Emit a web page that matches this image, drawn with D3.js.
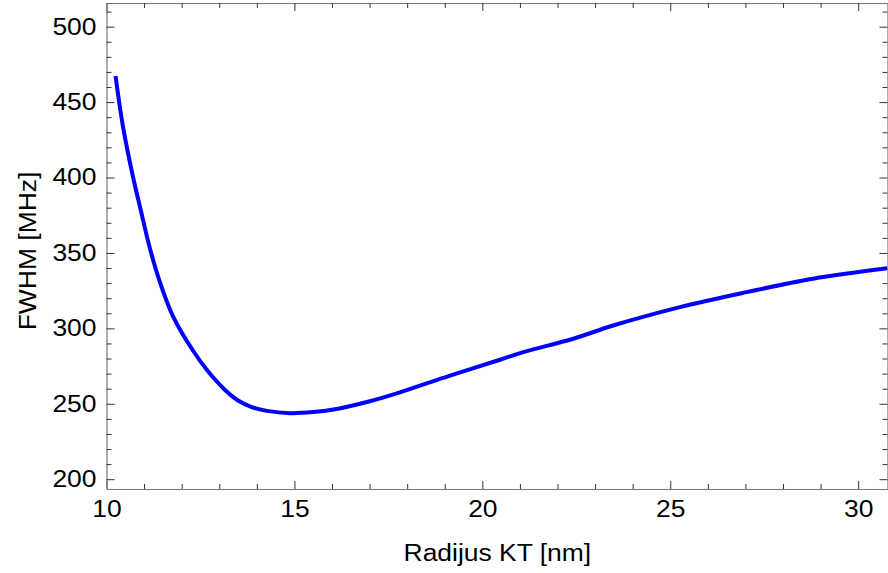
<!DOCTYPE html>
<html>
<head>
<meta charset="utf-8">
<script src="https://cdn.jsdelivr.net/npm/d3@7"></script>
<style>
  body { margin: 0; background: #fff; }
  text { font-family: "Liberation Sans", Arial, sans-serif; }
</style>
</head>
<body>
<div id="chart"></div>
<script>
// Data
const radius = [10.24, 10.44, 10.70, 10.92, 11.14, 11.41, 11.77, 12.30, 12.70, 13.14, 13.50, 13.85, 14.27, 14.89, 15.50, 16.04, 16.93, 17.81, 19.14, 20.47, 21.09, 22.42, 23.48, 25.26, 27.03, 28.80, 30.77];
const fwhm   = [467.3, 433.6, 401.0, 377.5, 354.5, 331.5, 308.0, 285.3, 271.5, 259.5, 252.2, 248.0, 245.3, 243.8, 244.5, 246.2, 251.2, 257.6, 268.7, 279.2, 284.2, 293.1, 301.9, 314.1, 324.0, 332.9, 339.8];
const xTicks = [10, 15, 20, 25, 30];
const yTicks = [200, 250, 300, 350, 400, 450, 500];

const W = 888, H = 573;
const margin = {top: 3, right: 0.5, bottom: 84, left: 106.5};
const width = W - margin.left - margin.right,
      height = H - margin.top - margin.bottom;

const svg = d3.select("#chart")
  .append("svg")
    .attr("width", W)
    .attr("height", H);

const g = svg.append("g")
    .attr("transform", `translate(${margin.left}, ${margin.top})`);

const x = d3.scaleLinear().domain([10, 30.78]).range([0, width]);
const y = d3.scaleLinear().domain([193.5, 515.7]).range([height, 0]);

const xMinor = d3.range(10, 31, 1).filter(v => v % 5 !== 0);
const yMinor = d3.range(200, 516, 10).filter(v => v % 50 !== 0);

// Axes, ticks pointing inward like the original frame
function styleAxis(sel) {
  sel.select(".domain").attr("stroke", "#777").attr("stroke-width", 1.2);
  sel.selectAll(".tick line").attr("stroke", "#333").attr("stroke-width", 1);
  sel.selectAll("text").attr("fill", "#000").style("font-size", "23px");
}

// bottom
g.append("g").attr("transform", `translate(0, ${height})`)
  .call(d3.axisBottom(x).tickValues(xTicks).tickSizeInner(-8).tickSizeOuter(0).tickPadding(12).tickFormat(d3.format("d")))
  .call(styleAxis);
g.append("g").attr("transform", `translate(0, ${height})`)
  .call(d3.axisBottom(x).tickValues(xMinor).tickSize(-5).tickFormat(""))
  .call(s => s.select(".domain").remove())
  .call(styleAxis);
// top
g.append("g")
  .call(d3.axisTop(x).tickValues(xTicks).tickSizeInner(-8).tickSizeOuter(0).tickFormat(""))
  .call(styleAxis);
g.append("g")
  .call(d3.axisTop(x).tickValues(xMinor).tickSize(-5).tickFormat(""))
  .call(s => s.select(".domain").remove())
  .call(styleAxis);
// left
g.append("g")
  .call(d3.axisLeft(y).tickValues(yTicks).tickSizeInner(-8).tickSizeOuter(0).tickPadding(10).tickFormat(d3.format("d")))
  .call(styleAxis);
g.append("g")
  .call(d3.axisLeft(y).tickValues(yMinor).tickSize(-5).tickFormat(""))
  .call(s => s.select(".domain").remove())
  .call(styleAxis);
// right
g.append("g").attr("transform", `translate(${width}, 0)`)
  .call(d3.axisRight(y).tickValues(yTicks).tickSizeInner(-8).tickSizeOuter(0).tickFormat(""))
  .call(styleAxis);
g.append("g").attr("transform", `translate(${width}, 0)`)
  .call(d3.axisRight(y).tickValues(yMinor).tickSize(-5).tickFormat(""))
  .call(s => s.select(".domain").remove())
  .call(styleAxis);

// the curve
g.append("path")
  .datum(radius.map((r, i) => [r, fwhm[i]]))
  .attr("fill", "none")
  .attr("stroke", "#0000ff")
  .attr("stroke-width", 4)
  .attr("d", d3.line()
    .curve(d3.curveCatmullRom.alpha(0.5))
    .x(d => x(d[0]))
    .y(d => y(d[1]))
  );

// axis titles
svg.append("text")
  .attr("x", margin.left + x(20.4))
  .attr("y", 561)
  .attr("text-anchor", "middle")
  .style("font-size", "23px")
  .text("Radijus KT [nm]");

svg.append("text")
  .attr("transform", "translate(36, 251) rotate(-90)")
  .attr("text-anchor", "middle")
  .style("font-size", "23px")
  .text("FWHM [MHz]");

// the original glyphs are a bit wider than Liberation Sans, stretch them a little
svg.selectAll("text").each(function() {
  const len = this.getComputedTextLength();
  if (len > 0) {
    d3.select(this).attr("textLength", len * 1.15).attr("lengthAdjust", "spacingAndGlyphs");
  }
});
</script>
</body>
</html>
